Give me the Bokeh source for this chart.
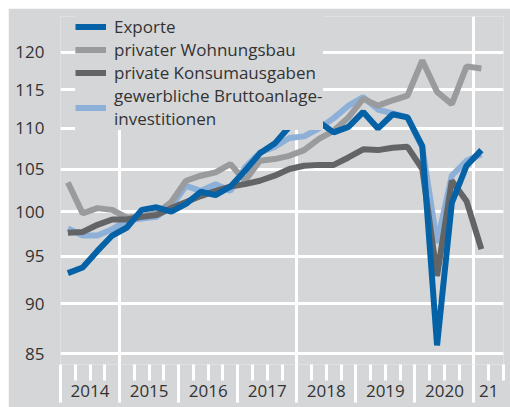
from bokeh.plotting import figure
from bokeh.layouts import column, row
from bokeh.models import (Range1d, FixedTicker, LinearAxis, Legend, LegendItem,
                          NumeralTickFormatter, ColumnDataSource, Spacer)
from bokeh.embed import file_html
from bokeh.resources import INLINE

# ---- data (quarterly index, 2014 Q1 .. 2021 Q1) ----
first_year = 2014
n_quarters = 29
exporte = [93.2, 93.8, 95.6, 97.3, 98.2, 100.2, 100.5, 100.0, 100.9, 102.3,
           101.9, 102.9, 104.8, 106.9, 108.1, 110.2, 110.3, 110.8, 109.5, 110.2,
           112.1, 110.0, 111.8, 111.4, 107.8, 85.8, 101.0, 105.4, 107.3]
wohnungsbau = [103.4, 99.8, 100.4, 100.2, 99.3, 99.5, 99.8, 101.1, 103.6, 104.2,
               104.6, 105.6, 103.6, 106.0, 106.2, 106.6, 107.3, 108.7, 109.7, 111.4,
               113.8, 112.9, 113.6, 114.2, 118.9, 114.7, 113.1, 118.1, 117.8]
konsum = [97.6, 97.7, 98.5, 99.1, 99.1, 99.4, 99.6, 100.4, 101.1, 101.8,
          102.4, 102.9, 103.2, 103.6, 104.2, 105.0, 105.4, 105.5, 105.5, 106.4,
          107.4, 107.3, 107.6, 107.7, 105.0, 92.9, 103.6, 101.2, 95.8]
bruttoanlage = [98.1, 97.3, 97.3, 98.0, 99.0, 99.2, 99.4, 100.6, 103.0, 102.4,
                103.2, 102.4, 105.2, 107.0, 107.7, 108.8, 109.0, 110.0, 111.3, 112.9,
                114.0, 112.4, 111.9, 111.4, 107.6, 96.5, 104.2, 106.0, 106.8]

series_names = ["Exporte", "privater Wohnungsbau", "private Konsumausgaben",
                "gewerbliche Bruttoanlage-\ninvestitionen"]
y_ticks = [85, 90, 95, 100, 105, 110, 115, 120]
year_labels = ["2014", "2015", "2016", "2017", "2018", "2019", "2020", "21"]
year_label_pos = [2014.5, 2015.5, 2016.5, 2017.5, 2018.5, 2019.5, 2020.5, 2021.25]
year_bounds = [2014, 2015, 2016, 2017, 2018, 2019, 2020, 2021]
grid_years = [2015, 2018, 2021]

# ---- styling ----
BG = "#d5d6d8"
C_EXP = "#0662a7"
C_WOHN = "#9a9b9d"
C_KONS = "#636466"
C_BRUT = "#8db0d9"
TXT = "#333333"
FONT = "Open Sans"
FS = "17px"

x = [first_year + (i + 0.5) / 4 for i in range(n_quarters)]
src = ColumnDataSource(dict(x=x, exp=exporte, wohn=wohnungsbau,
                            kons=konsum, brut=bruttoanlage))

p = figure(width=502, height=399,
           x_range=Range1d(2014.0, 2021.5), y_range=Range1d(83.94, 125.04),
           y_axis_type="log", output_backend="svg", toolbar_location=None,
           min_border_left=52, min_border_right=7, min_border_top=8,
           min_border_bottom=43)
p.background_fill_color = BG
p.border_fill_color = BG
p.outline_line_color = None

# grids
p.ygrid.ticker = FixedTicker(ticks=y_ticks)
p.ygrid.grid_line_color = "white"
p.ygrid.grid_line_width = 3
p.xgrid.ticker = FixedTicker(ticks=grid_years)
p.xgrid.grid_line_color = "white"
p.xgrid.grid_line_width = 3

# y axis
ya = p.yaxis[0]
ya.ticker = FixedTicker(ticks=y_ticks)
ya.formatter = NumeralTickFormatter(format="0")
ya.axis_line_color = None
ya.major_tick_line_color = None
ya.minor_tick_line_color = None
ya.major_label_text_font = FONT
ya.major_label_text_font_size = FS
ya.major_label_text_color = TXT
ya.major_label_standoff = 10

# x axis with tick marks (no labels)
quarter_ticks = [y + q / 4 for y in range(2014, 2021) for q in (1, 2, 3)] + [2021.25, 2021.5]
xa = p.xaxis[0]
xa.ticker = FixedTicker(ticks=year_bounds, minor_ticks=quarter_ticks)
xa.axis_line_color = None
xa.major_tick_in = 0
xa.major_tick_out = 38
xa.minor_tick_in = 0
xa.minor_tick_out = 16
xa.major_tick_line_color = "white"
xa.major_tick_line_width = 3
xa.minor_tick_line_color = "white"
xa.minor_tick_line_width = 3
xa.major_label_overrides = {v: "" for v in year_bounds}
xa.major_label_text_font_size = "1px"
xa.major_label_standoff = 0

# x axis with year labels
xl = LinearAxis(ticker=FixedTicker(ticks=year_label_pos),
                major_label_overrides={v: t for v, t in zip(year_label_pos, year_labels)},
                axis_line_color=None, major_tick_line_color=None,
                minor_tick_line_color=None, major_label_standoff=-24,
                major_label_text_font=FONT, major_label_text_font_size=FS,
                major_label_text_color=TXT)
p.add_layout(xl, "below")

# lines
r_brut = p.line("x", "brut", source=src, line_color=C_BRUT, line_width=6)
r_wohn = p.line("x", "wohn", source=src, line_color=C_WOHN, line_width=6)
r_kons = p.line("x", "kons", source=src, line_color=C_KONS, line_width=6)
r_exp = p.line("x", "exp", source=src, line_color=C_EXP, line_width=6)

legend = Legend(items=[
    LegendItem(label=series_names[0], renderers=[r_exp]),
    LegendItem(label=series_names[1], renderers=[r_wohn]),
    LegendItem(label=series_names[2], renderers=[r_kons]),
    LegendItem(label=series_names[3], renderers=[r_brut]),
], location=(15, 234))
legend.background_fill_color = BG
legend.background_fill_alpha = 1
legend.border_line_color = None
legend.label_text_font = FONT
legend.label_text_font_size = FS
legend.label_text_color = TXT
legend.glyph_width = 31
legend.glyph_height = 21
legend.label_height = 21
legend.label_standoff = 8
legend.spacing = 0
legend.padding = 0
legend.margin = 0
p.add_layout(legend, "center")

page = column(Spacer(width=510, height=8), row(Spacer(width=8, height=399), p))

open("out.html", "w").write(file_html(page, INLINE))
